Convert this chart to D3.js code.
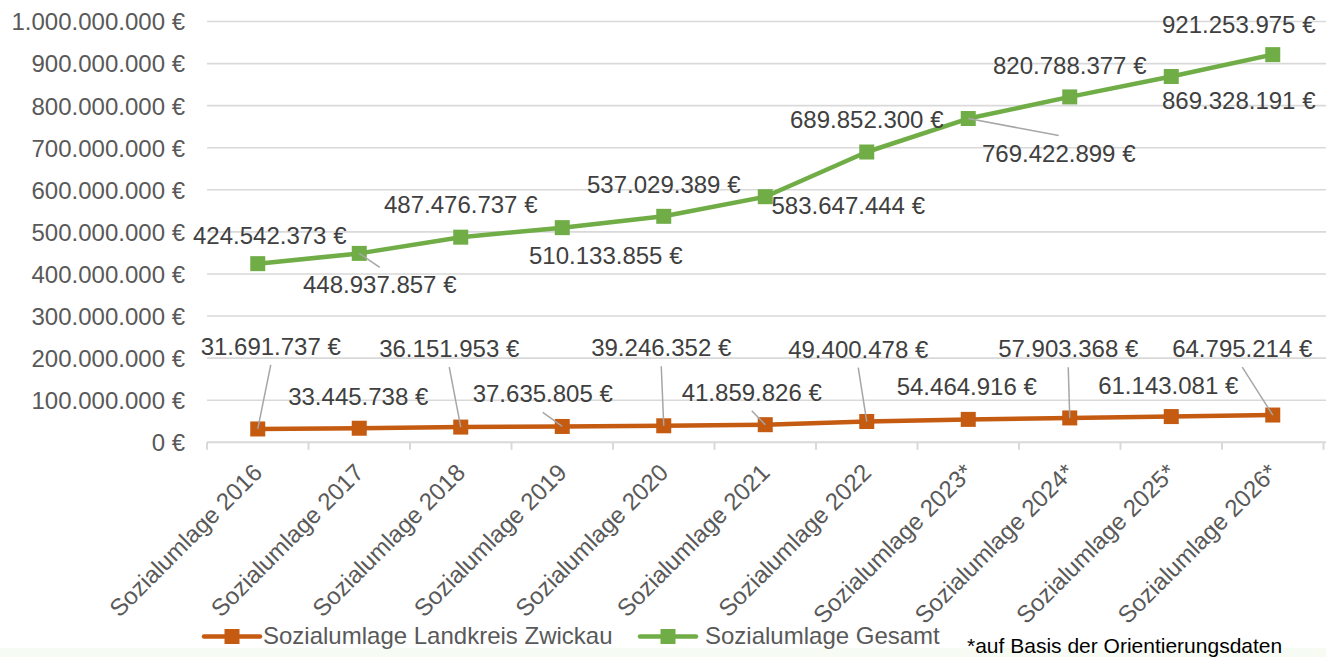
<!DOCTYPE html>
<html>
<head>
<meta charset="utf-8">
<script src="https://cdn.jsdelivr.net/npm/d3@7"></script>
<style>
  html, body { margin: 0; padding: 0; background: #ffffff; }
  svg { display: block; }
  text { font-family: "Liberation Sans", Arial, sans-serif; }
</style>
</head>
<body>
<svg id="chart" width="1326" height="657"></svg>
<script>
// ---------- data ----------
const categories = [
  "Sozialumlage 2016", "Sozialumlage 2017", "Sozialumlage 2018", "Sozialumlage 2019",
  "Sozialumlage 2020", "Sozialumlage 2021", "Sozialumlage 2022", "Sozialumlage 2023*",
  "Sozialumlage 2024*", "Sozialumlage 2025*", "Sozialumlage 2026*"
];
const zwickau = [31691737, 33445738, 36151953, 37635805, 39246352, 41859826,
                 49400478, 54464916, 57903368, 61143081, 64795214];
const gesamt = [424542373, 448937857, 487476737, 510133855, 537029389, 583647444,
                689852300, 769422899, 820788377, 869328191, 921253975];
const yTicks = [0, 100000000, 200000000, 300000000, 400000000, 500000000,
                600000000, 700000000, 800000000, 900000000, 1000000000];
const seriesNames = ["Sozialumlage Landkreis Zwickau", "Sozialumlage Gesamt"];
const footnote = "*auf Basis der Orientierungsdaten";

// ---------- layout (label placement: [dx, dy to baseline, leader]) ----------
const zwickauLabelPos = [
  [13, -74, 1], [-1, -23, 0], [-11.5, -70, 1], [-19.5, -24, 1], [-2.5, -69.5, 1],
  [-13.5, -24, 1], [-8.5, -64, 1], [-1.5, -24, 0], [-1.5, -60.6, 1], [-3, -23, 0], [-30.5, -58, 1]
];
const gesamtLabelPos = [
  [12, -20, 0], [20.5, 40, 1], [0, -24, 0], [43.5, 36, 0], [0, -23, 0],
  [83, 17, 0], [0, -24, 0], [90.5, 43, 1], [0, -23, 0], [67.5, 33, 0], [-34, -22, 0]
];

const colors = { zwickau: "#C55A11", gesamt: "#70AD47" };

// ---------- setup ----------
const svg = d3.select("#chart");
const W = 1326, H = 657;

const de = d3.formatLocale({ decimal: ",", thousands: ".", grouping: [3], currency: ["", " €"] });
const fmt = v => de.format(",.0f")(v) + " €";

const x = d3.scaleBand().domain(categories).range([207, 1323.5]).padding(0);
const y = d3.scaleLinear().domain([0, 1000000000]).range([442.3, 21.5]);
const cx = c => x(c) + x.bandwidth() / 2;

// bottom faint strip
svg.append("rect").attr("x", 0).attr("y", 648).attr("width", W).attr("height", H - 648)
  .attr("fill", "#f6fbf3");

// gridlines
svg.append("g").selectAll("line").data(yTicks.filter(d => d > 0)).join("line")
  .attr("x1", 207).attr("x2", W)
  .attr("y1", d => y(d)).attr("y2", d => y(d))
  .attr("stroke", "#d9d9d9").attr("stroke-width", 1.6);

// y axis labels
const yAxis = d3.axisLeft(y).tickValues(yTicks).tickSize(0).tickPadding(0).tickFormat(fmt);
const gy = svg.append("g").attr("transform", "translate(185,0)").call(yAxis);
gy.select(".domain").remove();
gy.selectAll("text").attr("font-size", 24).attr("fill", "#595959")
  .attr("font-family", "'Liberation Sans', Arial, sans-serif").attr("dy", "0.35em");

// x axis line + ticks at band boundaries
const gx = svg.append("g");
gx.append("line").attr("x1", 207).attr("x2", W).attr("y1", y(0)).attr("y2", y(0))
  .attr("stroke", "#d9d9d9").attr("stroke-width", 2);
const bounds = categories.map(c => x(c)).concat([x.range()[1]]);
gx.selectAll("line.tick").data(bounds).join("line").attr("class", "tick")
  .attr("x1", d => d).attr("x2", d => d).attr("y1", y(0)).attr("y2", y(0) + 7.5)
  .attr("stroke", "#d9d9d9").attr("stroke-width", 2);

// x labels rotated
gx.selectAll("text.xl").data(categories).join("text").attr("class", "xl")
  .attr("transform", d => `translate(${cx(d) + 6},474) rotate(-45)`)
  .attr("text-anchor", "end").attr("font-size", 24).attr("fill", "#595959")
  .text(d => d);

// series
function drawSeries(values, color) {
  const line = d3.line().x((d, i) => cx(categories[i])).y(d => y(d));
  svg.append("path").datum(values).attr("d", line)
    .attr("fill", "none").attr("stroke", color).attr("stroke-width", 4.5)
    .attr("stroke-linejoin", "round");
  svg.append("g").selectAll("rect").data(values).join("rect")
    .attr("x", (d, i) => cx(categories[i]) - 7.5).attr("y", d => y(d) - 7.5)
    .attr("width", 15).attr("height", 15).attr("fill", color);
}
drawSeries(zwickau, colors.zwickau);
drawSeries(gesamt, colors.gesamt);

// labels
function drawLabels(values, pos) {
  const g = svg.append("g");
  values.forEach((v, i) => {
    const px = cx(categories[i]), py = y(v);
    const [dx, dy, leader] = pos[i];
    const lx = px + dx, ly = py + dy;
    if (leader) {
      const ey = dy < 0 ? ly + 10 : ly - 26;
      g.append("line").attr("x1", px).attr("y1", py).attr("x2", lx).attr("y2", ey)
        .attr("stroke", "#a6a6a6").attr("stroke-width", 1.5);
    }
    g.append("text").attr("x", lx).attr("y", ly).attr("text-anchor", "middle")
      .attr("font-size", 24).attr("fill", "#404040").text(fmt(v));
  });
}
drawLabels(zwickau, zwickauLabelPos);
drawLabels(gesamt, gesamtLabelPos);

// legend
const legend = svg.append("g");
const legendItems = [
  { name: seriesNames[0], color: colors.zwickau, x0: 204, tx: 263 },
  { name: seriesNames[1], color: colors.gesamt, x0: 640, tx: 705 }
];
legendItems.forEach(it => {
  legend.append("line").attr("x1", it.x0).attr("x2", it.x0 + 56).attr("y1", 636.5).attr("y2", 636.5)
    .attr("stroke", it.color).attr("stroke-width", 4.5).attr("stroke-linecap", "round");
  legend.append("rect").attr("x", it.x0 + 20.5).attr("y", 629).attr("width", 15).attr("height", 15)
    .attr("fill", it.color);
  legend.append("text").attr("x", it.tx).attr("y", 644).attr("font-size", 24)
    .attr("fill", "#595959").text(it.name);
});

// footnote
svg.append("text").attr("x", 967).attr("y", 653).attr("font-size", 21).attr("fill", "#000000")
  .text(footnote);
</script>
</body>
</html>
